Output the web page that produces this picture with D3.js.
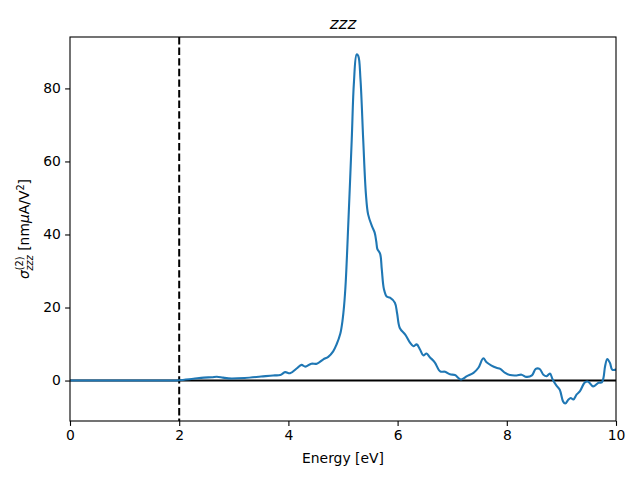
<!DOCTYPE html>
<html>
<head>
<meta charset="utf-8">
<script src="https://cdn.jsdelivr.net/npm/d3@7"></script>
<style>
  body { margin: 0; background: #fff; }
  svg { display: block; font-family: "DejaVu Sans", sans-serif; }
</style>
</head>
<body>
<svg id="chart" width="640" height="480"></svg>
<script>
// Energy [eV]
const energy = [0, 0.5, 1.0, 1.5, 1.9, 2.0, 2.26, 2.45, 2.6, 2.69, 2.8, 2.9, 3.2, 3.5, 3.72, 3.85, 3.94, 4.03, 4.15, 4.24, 4.31, 4.42, 4.52, 4.64, 4.73, 4.82, 4.88, 4.95, 4.99, 5.02, 5.05, 5.10, 5.16, 5.20, 5.25, 5.28, 5.32, 5.37, 5.42, 5.46, 5.53, 5.58, 5.61, 5.63, 5.68, 5.71, 5.75, 5.80, 5.86, 5.95, 5.99, 6.04, 6.14, 6.23, 6.29, 6.35, 6.41, 6.47, 6.53, 6.59, 6.68, 6.78, 6.87, 6.96, 7.05, 7.16, 7.27, 7.39, 7.48, 7.57, 7.63, 7.72, 7.81, 7.88, 7.97, 8.06, 8.18, 8.27, 8.36, 8.46, 8.53, 8.60, 8.67, 8.73, 8.79, 8.84, 8.91, 8.97, 9.03, 9.07, 9.13, 9.17, 9.22, 9.28, 9.34, 9.43, 9.49, 9.58, 9.68, 9.74, 9.77, 9.80, 9.84, 9.89, 9.93, 10.0];
// sigma^(2)_zzz [nm uA/V^2]
const sigma = [0, 0, 0, 0, 0.02, 0.1, 0.5, 0.8, 0.9, 1.05, 0.8, 0.6, 0.7, 1.1, 1.4, 1.5, 2.3, 2.0, 3.3, 4.3, 3.8, 4.6, 4.6, 5.8, 6.5, 8.0, 9.8, 12.8, 16.3, 20.5, 27, 44, 66, 81.6, 89.3, 88.9, 82.5, 66, 51, 45.5, 42.3, 40.5, 38, 36, 34.7, 30.5, 25, 23, 22.7, 21.3, 18.5, 14.4, 12.6, 10.3, 9.4, 9.9, 8.5, 6.9, 7.4, 6.4, 5.0, 2.5, 2.4, 1.7, 1.5, 0.3, 1.2, 2.1, 3.5, 6.1, 5.0, 4.1, 3.5, 3.2, 2.1, 1.5, 1.4, 1.6, 1.0, 1.4, 3.2, 3.2, 1.6, 1.2, 1.9, 0.3, -1.4, -2.5, -5.7, -6.3, -5.2, -4.8, -5.2, -3.8, -2.9, -0.5, -0.3, -1.6, -0.6, -0.5, 0.7, 3.9, 5.9, 4.8, 3.0, 3.0];
const xTicks = [0, 2, 4, 6, 8, 10];
const yTicks = [0, 20, 40, 60, 80];
const markerEnergy = 2.0;
const titleText = "zzz";
const xLabel = "Energy [eV]";

const data = energy.map((e, i) => ({ e, s: sigma[i] }));

const W = 640, H = 480;
const margin = { left: 70, right: 24, top: 37, bottom: 59 };
const svg = d3.select("#chart");

const x = d3.scaleLinear().domain([0, 10]).range([margin.left, W - margin.right]);
const [ymin, ymax] = d3.extent(sigma);
const pad = (ymax - ymin) * 0.05;
const y = d3.scaleLinear().domain([ymin - pad, ymax + pad]).range([H - margin.bottom, margin.top]);

svg.append("defs").append("clipPath").attr("id", "clip")
  .append("rect").attr("x", margin.left).attr("y", margin.top)
  .attr("width", W - margin.left - margin.right).attr("height", H - margin.top - margin.bottom);

const plot = svg.append("g").attr("clip-path", "url(#clip)");

plot.append("line")
  .attr("x1", x(0)).attr("x2", x(10))
  .attr("y1", y(0)).attr("y2", y(0))
  .attr("stroke", "#000").attr("stroke-width", 2);

plot.append("line")
  .attr("x1", x(markerEnergy)).attr("x2", x(markerEnergy))
  .attr("y1", margin.top).attr("y2", H - margin.bottom)
  .attr("stroke", "#000").attr("stroke-width", 2)
  .attr("stroke-dasharray", "7.4,3.2");

const line = d3.line().x(d => x(d.e)).y(d => y(d.s)).curve(d3.curveCatmullRom.alpha(0.5));
plot.append("path").datum(data)
  .attr("d", line)
  .attr("fill", "none")
  .attr("stroke", "#1f77b4")
  .attr("stroke-width", 2.1)
  .attr("stroke-linejoin", "round")
  .attr("stroke-linecap", "square");

const fs = 13.9;
const xAxis = svg.append("g").attr("transform", `translate(0,${H - margin.bottom})`)
  .call(d3.axisBottom(x).tickValues(xTicks).tickFormat(d3.format("d")).tickSize(4.9).tickPadding(4.2));
const yAxis = svg.append("g").attr("transform", `translate(${margin.left},0)`)
  .call(d3.axisLeft(y).tickValues(yTicks).tickFormat(d3.format("d")).tickSize(4.9).tickPadding(4.2));
[xAxis, yAxis].forEach(g => {
  g.select(".domain").remove();
  g.selectAll(".tick line").attr("stroke", "#000").attr("stroke-width", 1.1);
  g.selectAll(".tick text").attr("font-size", fs).attr("fill", "#000")
    .attr("font-family", "DejaVu Sans, sans-serif");
});

svg.append("rect")
  .attr("x", margin.left).attr("y", margin.top)
  .attr("width", W - margin.left - margin.right).attr("height", H - margin.top - margin.bottom)
  .attr("fill", "none").attr("stroke", "#000").attr("stroke-width", 1.1);

svg.append("text")
  .attr("x", (margin.left + W - margin.right) / 2).attr("y", 28.5)
  .attr("text-anchor", "middle").attr("font-size", 16.7).attr("font-style", "italic")
  .text(titleText);

svg.append("text")
  .attr("x", (margin.left + W - margin.right) / 2).attr("y", 463)
  .attr("text-anchor", "middle").attr("font-size", fs)
  .text(xLabel);

const yl = svg.append("text")
  .attr("transform", `translate(29,${(margin.top + H - margin.bottom) / 2}) rotate(-90)`)
  .attr("text-anchor", "middle").attr("font-size", fs);
yl.append("tspan").attr("font-style", "italic").text("σ");
yl.append("tspan").attr("font-size", 9.7).attr("dy", -6).text("(2)");
yl.append("tspan").attr("font-size", 9.7).attr("font-style", "italic").attr("dx", -14).attr("dy", 10).text("zzz");
yl.append("tspan").attr("dy", -4).text(" [nm");
yl.append("tspan").attr("font-style", "italic").text("μ");
yl.append("tspan").text("A/V");
yl.append("tspan").attr("font-size", 9.7).attr("dy", -5).text("2");
yl.append("tspan").attr("dy", 5).text("]");
</script>
</body>
</html>
